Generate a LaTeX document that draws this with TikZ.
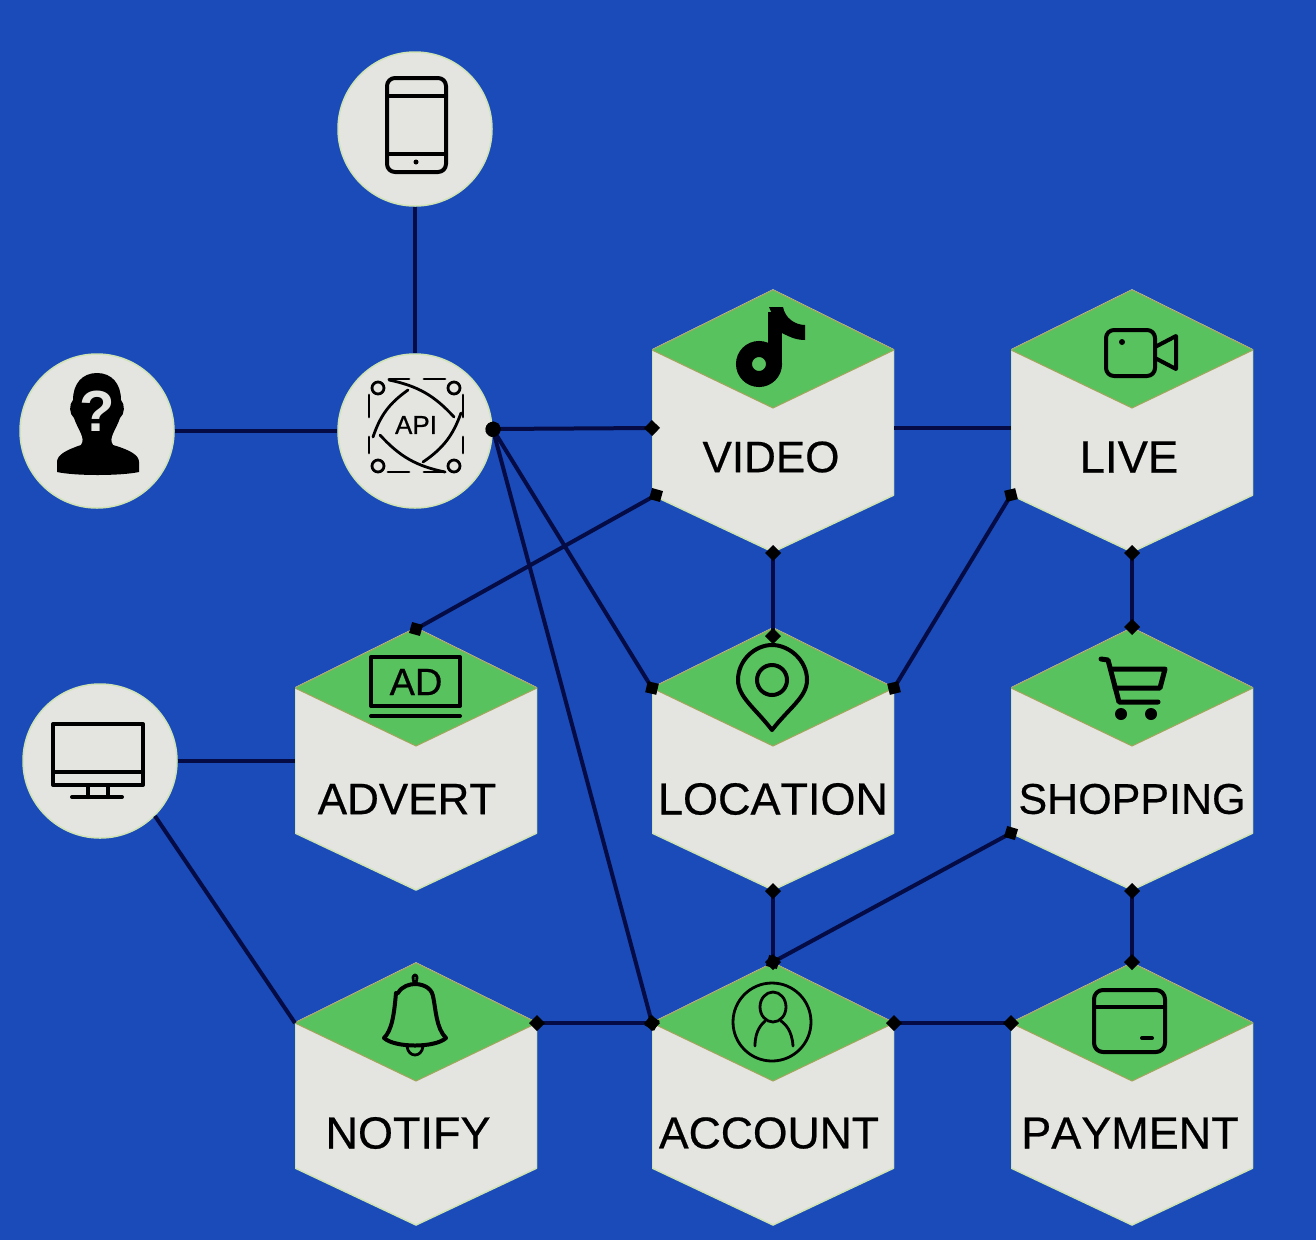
\documentclass[tikz,border=0pt]{standalone}
\usepackage{fontspec}
\setmainfont{Liberation Sans}
\newfontfamily\labelfont[FakeBold=0.5,Kerning=Off]{Liberation Sans}
\usepackage{xcolor}
\usetikzlibrary{arrows.meta}
\definecolor{bgblue}{HTML}{1A4BB8}
\definecolor{cellgrey}{HTML}{E4E4E1}
\definecolor{capgreen}{HTML}{58C25E}
\definecolor{capedge}{HTML}{A3A65C}
\definecolor{celledge}{HTML}{CFE3B4}
\definecolor{linknavy}{HTML}{050C45}

\begin{document}
\begin{tikzpicture}
                [
                x=1pt,y=-1pt,
                vertex/.style={circle,draw=celledge,line width=1.5pt,fill=cellgrey,minimum size=154pt,inner sep=0pt},
                hexcell/.style={rectangle,inner sep=0pt,outer sep=0pt,minimum width=242pt,minimum height=264pt,
                    path picture={
                        \begin{scope}[shift={(path picture bounding box.center)}]
                        \filldraw[fill=cellgrey,draw=celledge,line width=1.5pt] (0,-131) -- (121,-71) -- (121,74) -- (0,131) -- (-121,74) -- (-121,-71) -- cycle;
                        \filldraw[fill=capgreen,draw=capedge,line width=1pt] (0,-131) -- (121,-71) -- (0,-13) -- (-121,-71) -- cycle;
                        \end{scope}
                    }},
                hexlabel/.style={font=\labelfont\fontsize{#1}{#1}\selectfont,text=black,inner sep=0pt},
                hexlabel/.default=44,
                link/.style={draw=linknavy,line width=4pt},
                dlink/.style={link,{Diamond[black,length=16pt,width=16pt]}-{Diamond[black,length=16pt,width=16pt]},shorten <=-8pt,shorten >=-8pt},
                hublink/.style={link,{Circle[black,length=15pt,width=15pt]}-{Diamond[black,length=16pt,width=16pt]},shorten <=-7pt,shorten >=-8pt},
                icon/.style={draw=black,line width=4pt,line join=round,line cap=round},
                thinicon/.style={icon,line width=2.8pt}
                ]
            \fill[bgblue] (0,0) rectangle (1316,1240);
            \useasboundingbox (0,0) rectangle (1316,1240);

            % round nodes
            \node[vertex] (device) at (415,129) {};
            \node[vertex] (api) at (415,431) {};
            \node[vertex] (user) at (97,431) {};
            \node[vertex] (monitor) at (100,761) {};

            % hexagons
            \node[hexcell] (video) at (773,421) {};
            \node[hexcell] (live) at (1132,421) {};
            \node[hexcell] (advert) at (416,759) {};
            \node[hexcell] (location) at (773,759) {};
            \node[hexcell] (shopping) at (1132,759) {};
            \node[hexcell] (notify) at (416,1094) {};
            \node[hexcell] (account) at (773,1094) {};
            \node[hexcell] (payment) at (1132,1094) {};
            \foreach \n in {video,live,advert,location,shopping,notify,account,payment}{
                \coordinate (\n-nw) at ([yshift=71pt]\n.west);
                \coordinate (\n-ne) at ([yshift=71pt]\n.east);
                \coordinate (\n-sw) at ([yshift=-74pt]\n.west);
            }

            \node[hexlabel] (videotext) at (771,457) {VIDEO};
            \node[hexlabel=45.5] (livetext) at (1129,457) {LIVE};
            \node[hexlabel] (adverttext) at (407,799) {ADVERT};
            \node[hexlabel=45] (locationtext) at (773,799) {LOCATION};
            \node[hexlabel=43] (shoppingtext) at (1132,799) {SHOPPING};
            \node[hexlabel=45] (notifytext) at (408,1133) {NOTIFY};
            \node[hexlabel=44.5] (accounttext) at (769,1133) {ACCOUNT};
            \node[hexlabel=45] (paymenttext) at (1130,1133) {PAYMENT};

            % connectors
            \draw[link] (device) -- (api);
            \draw[link] (user) -- (api);
            \draw[link] (monitor) -- (monitor -| advert.west);
            \draw[link] (monitor.south east) -- (notify-nw);
            \draw[link] ([yshift=-7pt]video.east) -- ([yshift=-7pt]live.west);
            \draw[hublink] ([yshift=2pt]api.east) -- ([yshift=-7pt]video.west);
            \draw[hublink] ([yshift=2pt]api.east) -- (location-nw);
            \draw[hublink] ([yshift=2pt]api.east) -- (account-nw);
            \draw[dlink] ([xshift=4pt]video-sw) -- ([yshift=-2pt]advert.north);
            \draw[dlink] (video.south) -- ([yshift=-9pt]location.north);
            \draw[dlink] (location-ne) -- (live-sw);
            \draw[dlink] (live.south) -- (shopping.north);
            \draw[dlink] (location.south) -- (account.north);
            \draw[dlink] (account.north) -- (shopping-sw);
            \draw[dlink] (shopping.south) -- (payment.north);
            \draw[dlink] (notify-ne) -- (account-nw);
            \draw[dlink] (account-ne) -- (payment-nw);

            % phone
            \draw[icon,rounded corners=8pt] (387,78) rectangle (446,172);
            \draw[icon] (387,96) -- (446,96) (387,154) -- (446,154);
            \fill (416,162) circle (2.5pt);

            % user with question mark
            \fill (73,400) .. controls (73,384) and (82,373) .. (97,373) .. controls (112,373) and (121,384) .. (121,400)
                .. controls (125,404) and (125,414) .. (120,418) .. controls (116,430) and (108,438) .. (113,445)
                .. controls (130,450) and (139,455) .. (139,462) -- (139,472) .. controls (120,476) and (75,476) .. (57,472)
                -- (57,462) .. controls (57,455) and (66,450) .. (81,445) .. controls (86,438) and (78,430) .. (74,418)
                .. controls (69,414) and (69,404) .. (73,400) -- cycle;
            \node[font=\bfseries\fontsize{58}{58}\selectfont,text=cellgrey,inner sep=0pt] (userquery) at (97,411) {?};

            % api atom
            \foreach \cx/\cy in {378/388,454/388,378/466,454/466}{
                \draw[thinicon] (\cx,\cy) circle (6pt);
            }
            \draw[thinicon] (373,437) to[bend left=18] (408,390);
            \draw[thinicon] (423,462) to[bend right=18] (461,413);
            \draw[thinicon] (389,380) to[bend left=18] (454,417);
            \draw[thinicon] (380,435) to[bend right=18] (445,472);
            \draw[thinicon] (389,379) -- (409,379) (424,379) -- (445,379) (388,472) -- (409,472) (424,472) -- (445,472);
            \draw[thinicon] (369,395) -- (369,417) (369,437) -- (369,453) (463,395) -- (463,417) (463,437) -- (463,453);
            \node[hexlabel=26] (apitext) at (416,425) {API};

            % monitor
            \draw[icon] (53,724) rectangle (143,785);
            \draw[icon] (53,772) -- (143,772);
            \draw[icon] (88,785) -- (88,797) (108,785) -- (108,797) (72,797) -- (122,797);

            % video note
            \draw[line width=14pt] (775,312) -- (775,365);
            \draw[line width=16pt] (759,364) circle (15pt);
            \fill (769,307) -- (783,307) .. controls (785,318) and (795,325) .. (805,325) -- (805,340) .. controls (795,340) and (788,336) .. (780,332) -- cycle;

            % camera
            \draw[icon,rounded corners=8pt] (1106,330) rectangle (1155,376);
            \fill (1122,342) circle (3pt);
            \draw[icon] (1155,347) -- (1176,336) -- (1176,369) -- (1155,358);

            % advert
            \draw[icon,line cap=butt] (371,657) rectangle (460,706);
            \draw[icon] (371,716) -- (460,716);
            \node[hexlabel=38] (adtext) at (416,682) {AD};

            % pin
            \draw[icon] (772,730) .. controls (755,708) and (738,697) .. (738,680) .. controls (738,660) and (755,645) .. (772,645)
                .. controls (789,645) and (807,660) .. (807,680) .. controls (807,697) and (789,708) .. (772,730) -- cycle;
            \draw[icon] (772,680) circle (15pt);

            % cart
            \draw[icon,line width=5pt] (1101,659) -- (1108,660) -- (1119,702) -- (1158,702);
            \draw[icon,line width=5pt] (1111,669) -- (1165,669) -- (1160,688) -- (1115,688);
            \fill (1121,714) circle (6pt) (1151,714) circle (6pt);

            % bell
            \draw[icon] (396,993) .. controls (394,1015) and (392,1030) .. (384,1038) .. controls (395,1048) and (435,1048) .. (446,1038)
                .. controls (436,1028) and (436,1010) .. (433,996) .. controls (431,986) and (420,984) .. (415,984) .. controls (410,984) and (402,986) .. (398,993);
            \draw[thinicon] (415,984) .. controls (408,972) and (422,972) .. (415,984);
            \draw[thinicon] (407,1046) .. controls (408,1058) and (422,1058) .. (423,1046);

            % person
            \draw[thinicon] (772,1022) circle (39pt);
            \draw[thinicon] (773,1007) ellipse (13pt and 15pt);
            \draw[thinicon] (755,1046) .. controls (755,1030) and (762,1024) .. (765,1021) (781,1021) .. controls (785,1024) and (792,1030) .. (793,1046);

            % wallet
            \draw[icon,rounded corners=9pt] (1094,990) rectangle (1165,1052);
            \draw[icon] (1094,1007) -- (1165,1007);
            \draw[icon] (1142,1038) -- (1152,1038);
            \end{tikzpicture}
\end{document}
